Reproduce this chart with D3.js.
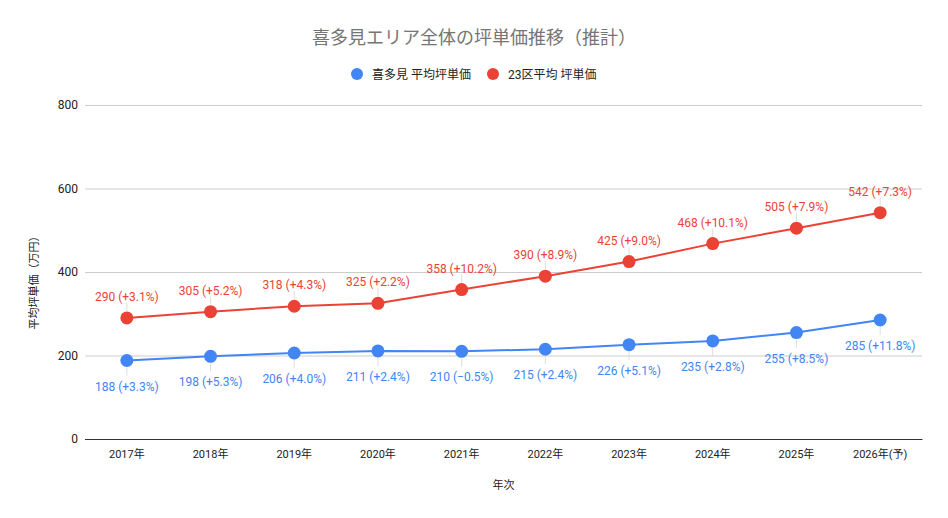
<!DOCTYPE html>
<html><head><meta charset="utf-8">
<script src="https://cdn.jsdelivr.net/npm/d3@7"></script>
<style>
body{margin:0;background:#fff;}
text{font-family:Roboto,"Noto Sans CJK JP",sans-serif;}
</style></head>
<body>
<svg id="c" width="948" height="518"></svg>
<script>
const years = ["2017年","2018年","2019年","2020年","2021年","2022年","2023年","2024年","2025年","2026年(予)"];
const kitamiValues = [188,198,206,211,210,215,226,235,255,285];
const kitamiPct = ["+3.3%","+5.3%","+4.0%","+2.4%","−0.5%","+2.4%","+5.1%","+2.8%","+8.5%","+11.8%"];
const wardValues = [290,305,318,325,358,390,425,468,505,542];
const wardPct = ["+3.1%","+5.2%","+4.3%","+2.2%","+10.2%","+8.9%","+9.0%","+10.1%","+7.9%","+7.3%"];
const yTicks = [0,200,400,600,800];

const svg = d3.select("#c");
const m = {l:85, r:922, t:105, b:439};
const x = d3.scaleBand().domain(years).range([m.l, m.r]).padding(0);
const y = d3.scaleLinear().domain([0,800]).range([m.b, m.t]);

svg.append("text").attr("x",474).attr("y",44).attr("text-anchor","middle")
  .attr("font-size",18).attr("fill","#757575").text("喜多見エリア全体の坪単価推移（推計）");

// legend
const legend = [{name:"喜多見 平均坪単価", color:"#4285F4", cx:357},{name:"23区平均 坪単価", color:"#EA4335", cx:493}];
legend.forEach(l=>{
  svg.append("circle").attr("cx",l.cx).attr("cy",74).attr("r",6).attr("fill",l.color);
  svg.append("text").attr("x",l.cx+15).attr("y",78.5).attr("font-size",12).attr("fill","#222").text(l.name);
});

// grid
const yAxis = d3.axisLeft(y).tickValues(yTicks).tickSize(-(m.r-m.l)).tickPadding(8);
const ga = svg.append("g").attr("transform",`translate(${m.l},0)`).call(yAxis);
ga.select(".domain").remove();
ga.selectAll(".tick line").attr("stroke","#cccccc");
ga.selectAll(".tick text").attr("font-size",12).attr("fill","#222").attr("x",-7)
  .style("font-family","Roboto,sans-serif");
ga.selectAll(".tick").filter(d=>d===0).select("line").attr("stroke","#333");

const xAxis = d3.axisBottom(x).tickSize(0).tickPadding(11);
const gx = svg.append("g").attr("transform",`translate(0,${m.b})`).call(xAxis);
gx.select(".domain").attr("stroke","#333");
gx.selectAll(".tick text").attr("font-size",11).attr("fill","#222")
  .style("font-family","Roboto,'Noto Sans CJK JP',sans-serif");

svg.append("text").attr("x",(m.l+m.r)/2).attr("y",489).attr("text-anchor","middle")
  .attr("font-size",11).attr("fill","#222").text("年次");
svg.append("text").attr("transform","translate(38,280) rotate(-90)").attr("text-anchor","middle")
  .attr("font-size",11).attr("fill","#222").text("平均坪単価（万円）");

function series(vals, pcts, color, above){
  const cx = (d,i)=> x(years[i]) + x.bandwidth()/2;
  const g = svg.append("g");
  // leader lines
  g.selectAll(".lead").data(vals).join("line")
    .attr("x1",cx).attr("x2",cx)
    .attr("y1",d=>y(d)+(above?-7:7)).attr("y2",d=>y(d)+(above?-15:15))
    .attr("stroke","#dddddd").attr("stroke-width",1);
  const line = d3.line().x((d,i)=>cx(d,i)).y(d=>y(d));
  g.append("path").datum(vals).attr("d",line).attr("fill","none").attr("stroke",color).attr("stroke-width",2);
  g.selectAll("circle").data(vals).join("circle")
    .attr("cx",cx).attr("cy",d=>y(d)).attr("r",6.5).attr("fill",color);
  g.selectAll(".lbl").data(vals).join("text")
    .attr("x",cx).attr("y",d=>y(d)+(above?-17:30))
    .attr("text-anchor","middle").attr("font-size",12).attr("fill",color)
    .text((d,i)=>`${d} (${pcts[i]})`);
}
series(wardValues, wardPct, "#EA4335", true);
series(kitamiValues, kitamiPct, "#4285F4", false);
</script>
</body></html>
